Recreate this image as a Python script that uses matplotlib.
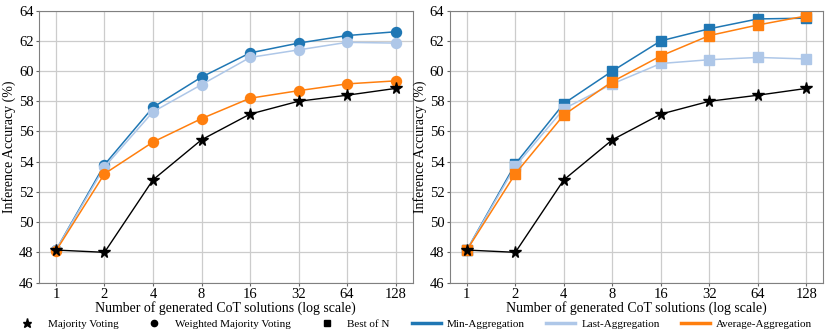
import matplotlib
matplotlib.use("Agg")
import matplotlib.pyplot as plt
from matplotlib.lines import Line2D

plt.rcParams['font.family'] = ['Liberation Serif', 'DejaVu Serif']
plt.rcParams['mathtext.fontset'] = 'stix'

n_solutions = [1, 2, 4, 8, 16, 32, 64, 128]
y_ticks = [46, 48, 50, 52, 54, 56, 58, 60, 62, 64]

majority = [48.15, 48.0, 52.8, 55.45, 57.15, 58.0, 58.4, 58.85]

# left: weighted majority voting
wmv_min = [48.15, 53.8, 57.6, 59.6, 61.2, 61.85, 62.35, 62.6]
wmv_last = [48.15, 53.65, 57.3, 59.1, 60.9, 61.4, 61.9, 61.85]
wmv_avg = [48.1, 53.2, 55.3, 56.85, 58.2, 58.7, 59.15, 59.35]

# right: best of N
bon_min = [48.15, 53.85, 57.85, 60.0, 62.0, 62.8, 63.45, 63.5]
bon_last = [48.15, 53.7, 57.5, 59.15, 60.5, 60.75, 60.9, 60.8]
bon_avg = [48.15, 53.2, 57.1, 59.3, 61.0, 62.35, 63.05, 63.65]

c_min = "#1f77b4"
c_last = "#aec7e8"
c_avg = "#ff7f0e"

fig, axes = plt.subplots(1, 2, figsize=(8.3, 3.32), dpi=100)
fig.subplots_adjust(left=0.047, right=0.992, top=0.968, bottom=0.149, wspace=0.1)

panels = [
    (axes[0], "o", 7.2, [wmv_min, wmv_last, wmv_avg]),
    (axes[1], "s", 6.8, [bon_min, bon_last, bon_avg]),
]
for ax, mk, ms, series in panels:
    x = range(len(n_solutions))
    for vals, col in zip(series, [c_min, c_last, c_avg]):
        ax.plot(x, vals, color=col, marker=mk, markersize=ms, linewidth=1.1)
    ax.plot(x, majority, color="black", marker="*", markersize=8.5, linewidth=1.0, zorder=5)
    ax.set_xticks(list(x))
    ax.set_xticklabels([str(n) for n in n_solutions])
    ax.set_yticks(y_ticks)
    ax.set_ylim(46, 64)
    ax.set_xlim(-0.35, 7.35)
    ax.grid(True, color="#cccccc", linewidth=0.9)
    ax.set_axisbelow(True)
    ax.tick_params(labelsize=10.5, length=2.5, pad=1.5, color="#666666")
    ax.set_xlabel("Number of generated CoT solutions (log scale)", fontsize=10, labelpad=0)
    ax.set_ylabel("Inference Accuracy (%)", fontsize=10, labelpad=2)
    for sp in ax.spines.values():
        sp.set_color("#808080")

handles = [
    Line2D([], [], color="black", marker="*", linestyle="none", markersize=6.5),
    Line2D([], [], color="black", marker="o", linestyle="none", markersize=4.5),
    Line2D([], [], color="black", marker="s", linestyle="none", markersize=4.5),
    Line2D([], [], color=c_min, linewidth=2.5),
    Line2D([], [], color=c_last, linewidth=2.5),
    Line2D([], [], color=c_avg, linewidth=2.5),
]
labels = ["Majority Voting", "Weighted Majority Voting", "Best of N",
          "Min-Aggregation", "Last-Aggregation", "Average-Aggregation"]
fig.legend(handles, labels, loc="center", ncol=6, frameon=False, fontsize=8,
           bbox_to_anchor=(0.497, 0.025), columnspacing=1.95, handlelength=2.6,
           handletextpad=0.55, borderpad=0.1)

fig.savefig("out.png", dpi=100)
